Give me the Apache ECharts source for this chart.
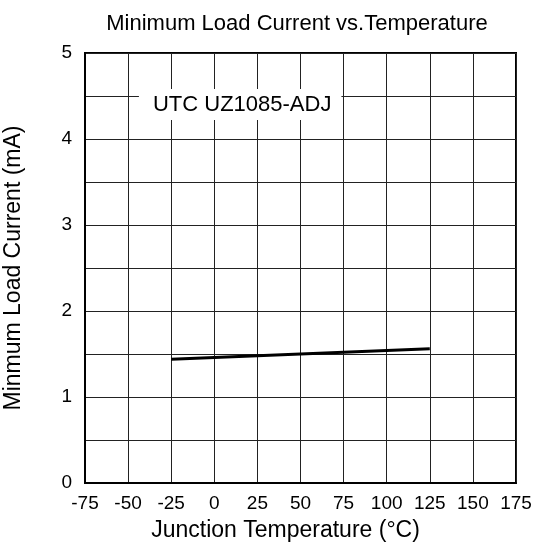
<!DOCTYPE html>
<html>
<head>
<meta charset="utf-8">
<script src="https://cdn.jsdelivr.net/npm/echarts@6/dist/echarts.min.js"></script>
<style>
html,body{margin:0;padding:0;background:#fff;}
#c{width:539px;height:543px;}
</style>
</head>
<body>
<div id="c"></div>
<script>
const temperatures = [-25, 50, 125];
const currents = [1.44, 1.50, 1.56];
const xTicks = [-75, -50, -25, 0, 25, 50, 75, 100, 125, 150, 175];
const yTicks = [0, 1, 2, 3, 4, 5];
const titleText = 'Minimum Load Current vs.Temperature';
const xName = 'Junction Temperature (°C)';
const yName = 'Minmum Load Current (mA)';
const deviceLabel = 'UTC UZ1085-ADJ';

const FONT = "'Liberation Sans', Arial, sans-serif";
const chart = echarts.init(document.getElementById('c'), null, {renderer: 'canvas'});
chart.setOption({
  animation: false,
  backgroundColor: '#fff',
  title: {
    text: titleText,
    left: 292,
    textAlign: 'center',
    top: 8,
    textStyle: {fontFamily: FONT, fontSize: 22, fontWeight: 'normal', color: '#000'}
  },
  grid: {left: 85, right: 23, top: 53, bottom: 60, containLabel: false, outerBoundsMode: 'none',
    show: true, borderColor: '#000', borderWidth: 2, backgroundColor: 'transparent'},
  xAxis: {
    type: 'value',
    min: xTicks[0], max: xTicks[xTicks.length - 1], interval: 25,
    name: xName, nameLocation: 'middle', nameGap: 36,
    nameTextStyle: {fontFamily: FONT, fontSize: 23, color: '#000', padding: [0, 30, 0, 0]},
    axisLine: {show: true, onZero: false, lineStyle: {color: '#000', width: 2}},
    axisTick: {show: false},
    axisLabel: {fontFamily: FONT, fontSize: 19, color: '#000', margin: 11},
    splitLine: {show: true, lineStyle: {color: '#222', width: 1}}
  },
  yAxis: {
    type: 'value',
    min: yTicks[0], max: yTicks[yTicks.length - 1], interval: 1,
    name: yName, nameLocation: 'middle', nameGap: 60,
    nameTextStyle: {fontFamily: FONT, fontSize: 23, color: '#000'},
    axisLine: {show: true, onZero: false, lineStyle: {color: '#000', width: 2}},
    axisTick: {show: false},
    minorTick: {show: false, splitNumber: 2},
    minorSplitLine: {show: true, lineStyle: {color: '#222', width: 1}},
    axisLabel: {fontFamily: FONT, fontSize: 19, color: '#000', margin: 13},
    splitLine: {show: true, lineStyle: {color: '#222', width: 1}}
  },
  series: [{
    type: 'line',
    data: temperatures.map((t, i) => [t, currents[i]]),
    symbol: 'none',
    lineStyle: {color: '#000', width: 3},
    z: 5,
    markPoint: {
      symbol: 'rect', symbolSize: 0,
      silent: true,
      data: [{coord: [15, 4.40]}],
      label: {
        show: true, position: 'inside',
        formatter: deviceLabel,
        fontFamily: FONT, fontSize: 22, color: '#000',
        backgroundColor: '#fff',
        padding: [5, 10, 4, 14]
      }
    }
  }]
});
</script>
</body>
</html>
